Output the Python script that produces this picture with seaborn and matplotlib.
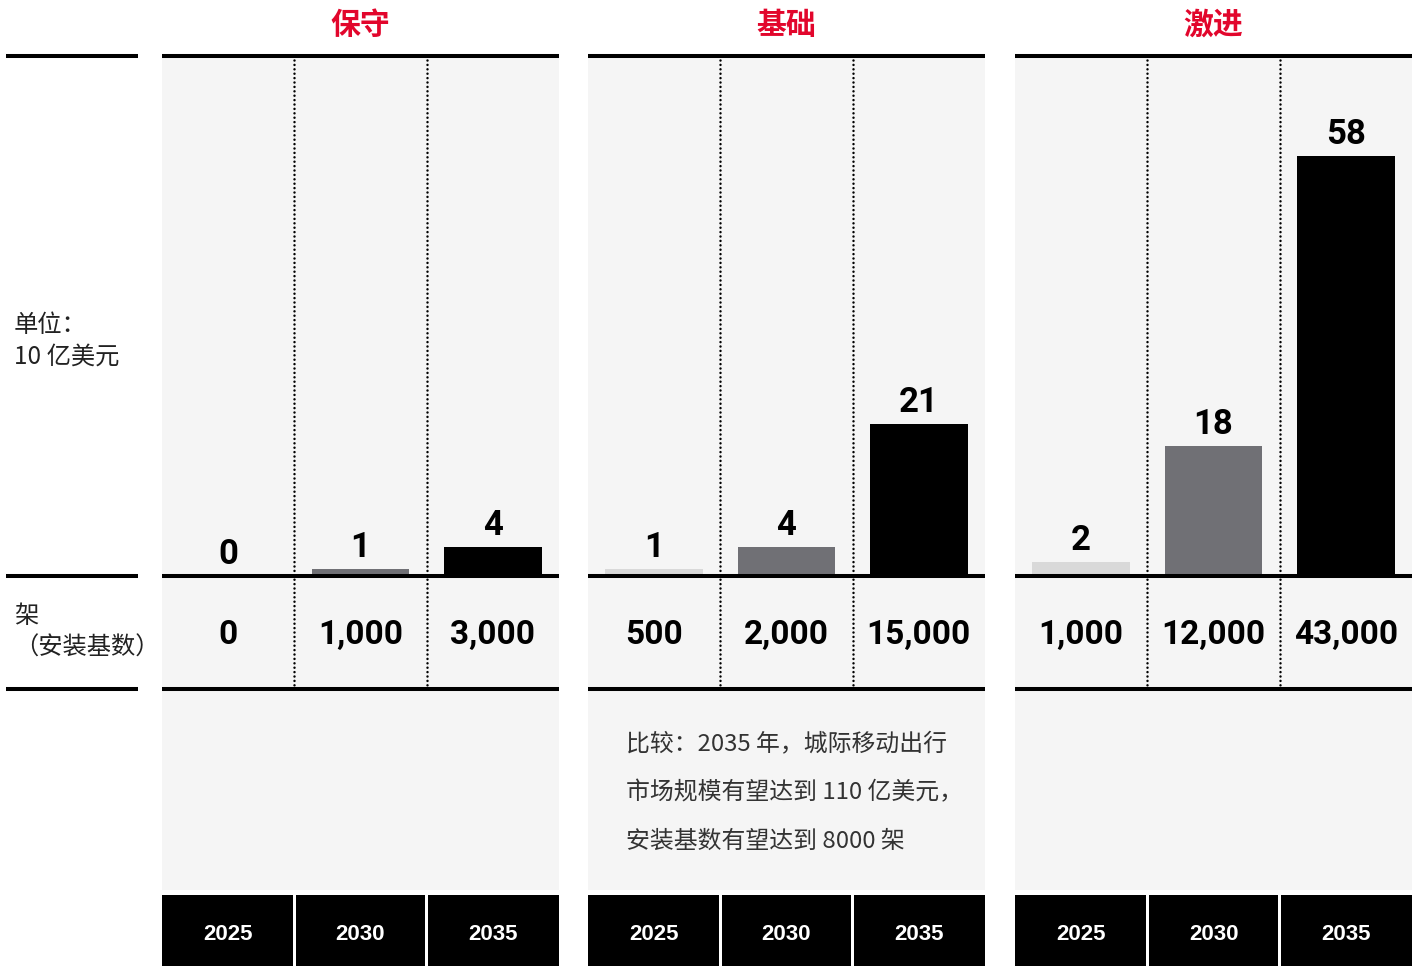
import matplotlib
matplotlib.use("Agg")
import matplotlib.pyplot as plt
import seaborn as sns
import pandas as pd
from matplotlib.patches import Rectangle

# ---- data -------------------------------------------------------------
scenarios = ["保守", "基础", "激进"]
years = ["2025", "2030", "2035"]
market_size = {            # 单位：10 亿美元
    "保守": [0, 1, 4],
    "基础": [1, 4, 21],
    "激进": [2, 18, 58],
}
installed_base = {         # 架（安装基数）
    "保守": ["0", "1,000", "3,000"],
    "基础": ["500", "2,000", "15,000"],
    "激进": ["1,000", "12,000", "43,000"],
}
year_colors = ["#d9d9d9", "#707075", "#000000"]
note_lines = [
    "比较：2035 年，城际移动出行",
    "市场规模有望达到 110 亿美元，",
    "安装基数有望达到 8000 架",
]
unit_lines = ["单位：", "10 亿美元"]
base_lines = ["架", "（安装基数）"]

# ---- style ------------------------------------------------------------
sns.set_theme(style="white")
plt.rcParams["font.family"] = ["Noto Sans CJK SC", "DejaVu Sans"]

W, H = 1419, 966
fig = plt.figure(figsize=(W / 100, H / 100), dpi=100)

RED = "#e2062c"
PANEL_BG = "#f5f5f5"
panel_left = [162, 588, 1015]
panel_w = 397
col_w = panel_w / 3
y_top, y_base, y_mid, y_bg_end, y_foot = 56, 576, 689, 890, 895
px_per_unit = 7.25

# background layer (pixel coordinates)
bg = fig.add_axes([0, 0, 1, 1], zorder=0)
bg.set_xlim(0, W)
bg.set_ylim(H, 0)
bg.axis("off")
for left in panel_left:
    bg.add_patch(Rectangle((left, y_top), panel_w, y_bg_end - y_top,
                           facecolor=PANEL_BG, edgecolor="none"))

# bar layer: one axes per scenario above the baseline
for s, left in zip(scenarios, panel_left):
    ax = fig.add_axes([left / W, (H - y_base) / H, panel_w / W,
                       (y_base - y_top) / H], zorder=1)
    ax.patch.set_alpha(0)
    df = pd.DataFrame({"year": years, "value": market_size[s]})
    sns.barplot(data=df, x="year", y="value", hue="year", order=years,
                hue_order=years, palette=year_colors, width=0.74,
                legend=False, ax=ax, saturation=1, linewidth=0)
    ax.set_xlim(-0.5, 2.5)
    ax.set_ylim(0, (y_base - y_top) / px_per_unit)
    ax.axis("off")
    for i, v in enumerate(market_size[s]):
        ax.annotate(f"{v}", (i, v), xytext=(0, 8.5), textcoords="offset points",
                    ha="center", va="baseline", fontsize=25,
                    family=["Roboto", "DejaVu Sans"], fontweight="bold",
                    color="black", annotation_clip=False)

# overlay layer: rules, separators, texts, footer
ov = fig.add_axes([0, 0, 1, 1], zorder=2)
ov.set_xlim(0, W)
ov.set_ylim(H, 0)
ov.axis("off")
ov.patch.set_alpha(0)

thick = 2.9
for y in (y_top, y_base, y_mid):
    ov.plot([6, 138], [y, y], color="black", lw=thick, solid_capstyle="butt")
    for left in panel_left:
        ov.plot([left, left + panel_w], [y, y], color="black", lw=thick,
                solid_capstyle="butt")

for s, left in zip(scenarios, panel_left):
    cx = left + panel_w / 2
    ov.text(cx, 25, s, ha="center", va="center", fontsize=21.5,
            fontweight="bold", color=RED)
    for k in (1, 2):
        x = left + k * col_w
        ov.plot([x, x], [y_top + 4, y_mid - 3], color="black", lw=1.8,
                linestyle=(0, (0.01, 1.75)), dash_capstyle="round")
    for i, lab in enumerate(installed_base[s]):
        ov.text(left + (i + 0.5) * col_w, 635, lab, ha="center", va="center",
                fontsize=24, family=["Roboto", "DejaVu Sans"],
                fontweight="bold", color="black")
    for i, yr in enumerate(years):
        x0 = left + i * col_w + (1.5 if i > 0 else 0)
        x1 = left + (i + 1) * col_w - (1.5 if i < 2 else 0)
        ov.add_patch(Rectangle((x0, y_foot), x1 - x0, H - y_foot,
                               facecolor="black", edgecolor="none"))
        ov.text(left + (i + 0.5) * col_w, 934, yr, ha="center", va="center",
                fontsize=16, family=["Liberation Sans", "DejaVu Sans"],
                fontweight="bold", color="white")

# row labels on the left
label_kw = dict(ha="left", va="center", fontsize=17.5, color="#222222",
                fontweight="light")
ov.text(14, 325, unit_lines[0], **label_kw)
ov.text(14, 357, unit_lines[1], **label_kw)
ov.text(14, 616, base_lines[0], **label_kw)
ov.text(14, 648, base_lines[1], **label_kw)

# comparison note in the middle panel
for j, line in enumerate(note_lines):
    ov.text(626, 745 + 48 * j, line, ha="left", va="center", fontsize=17.2,
            color="#333333", fontweight="light")

fig.savefig("out.png", dpi=100)
